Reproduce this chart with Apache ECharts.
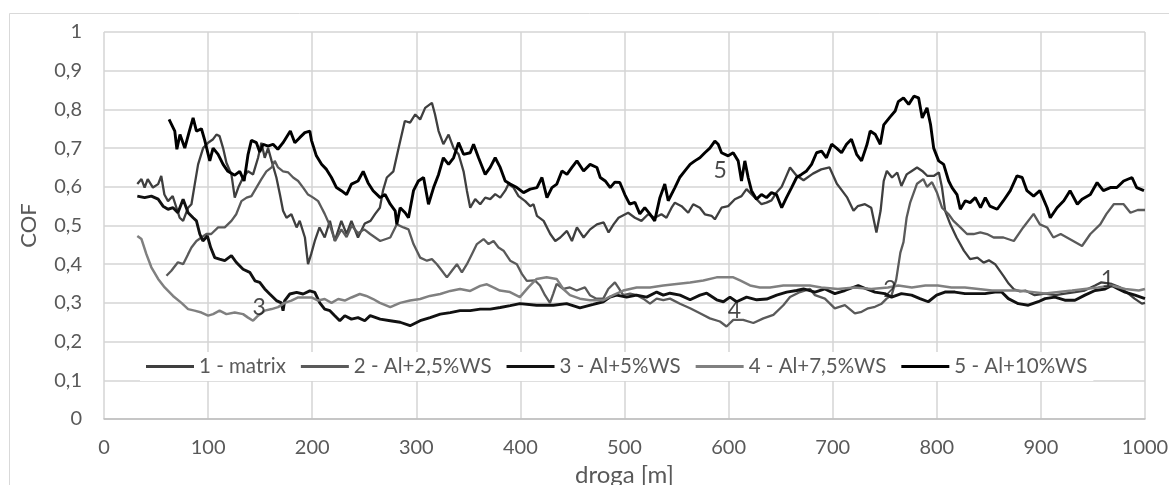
<!DOCTYPE html>
<html>
<head>
<meta charset="utf-8">
<script src="https://cdn.jsdelivr.net/npm/echarts/dist/echarts.min.js"></script>
<style>
  html, body { margin: 0; padding: 0; background: #fff; }
  #cof { width: 1169px; height: 485px; }
</style>
</head>
<body>
<div id="cof"></div>
<script>
// [droga m, COF]
var names = ["1 - matrix", "2 - Al+2,5%WS", "3 - Al+5%WS", "4 - Al+7,5%WS", "5 - Al+10%WS"];

var matrix = [[32,0.607],[36,0.62],[39,0.598],[42,0.62],[47,0.598],[52,0.607],[55,0.628],[58,0.58],[61.5,0.563],[66,0.576],[72.7,0.52],[76,0.512],[80.8,0.546],[84,0.555],[87.2,0.607],[90.4,0.658],[95.2,0.70],[100,0.714],[104.8,0.723],[108,0.735],[111,0.731],[114.4,0.70],[117.6,0.662],[122.4,0.632],[125.6,0.572],[129,0.598],[133.6,0.624],[138.4,0.64],[143.2,0.632],[148,0.675],[151.2,0.714],[154.4,0.675],[157.6,0.70],[161,0.667],[165.6,0.624],[169,0.58],[172,0.538],[175.3,0.52],[180,0.529],[185,0.495],[188,0.512],[193,0.469],[196,0.40],[199,0.426],[202.5,0.46],[207,0.495],[212,0.469],[217,0.512],[221.7,0.46],[228,0.512],[233,0.478],[237.7,0.512],[244,0.469],[250.5,0.505],
  [256,0.512],[260.5,0.53],[265,0.546],[268,0.59],[271.7,0.624],[278,0.64],[283,0.70],[289,0.77],[294,0.766],[299,0.787],[303.7,0.774],[308.5,0.804],[315,0.817],[318,0.787],[321.4,0.744],[326,0.71],[331,0.735],[335.8,0.70],[340.6,0.684],[345.4,0.64],[348.6,0.59],[351.8,0.546],[356.6,0.568],[361.4,0.555],[366.2,0.572],[371,0.568],[375.8,0.581],[380.6,0.572],[385.4,0.59],[388.6,0.607],[393.4,0.598],[398.2,0.576],[404.6,0.563],[409.4,0.55],[412.6,0.555],[415.9,0.525],[422.3,0.512],[428.7,0.478],[433.5,0.46],[438.3,0.469],[444.7,0.486],[449.5,0.46],[454.3,0.495],[460.7,0.469],[467,0.49],[473.5,0.503],[480,0.508],[484.7,0.482],[489.5,0.503],[494.3,0.52],[503.5,0.533],[510,0.52],[516.3,0.512],[522.7,0.529],[529,0.52],[535.5,0.529],[540.3,0.52],[545.2,0.546],[548.4,0.559],[554.8,0.55],[561.2,0.533],[566,0.555],[572.4,0.546],[577.2,0.529],[583.6,0.525],[586.8,0.516],[593.2,0.546],[599.6,0.55],[606,0.568],[612.4,0.576],[617.2,0.594],[622,0.581],[626.8,0.568],[631.6,0.555],[636.4,0.559],[641.2,0.565],[646,0.585],[651,0.60],[655,0.625],[659,0.65],[665,0.63],[672,0.617],[681,0.634],[689,0.645],[697,0.65],[704,0.608],[709,0.59],[714,0.572],[720,0.538],[724,0.55],[731,0.555],[737,0.546],[742,0.482],[746,0.538],[749,0.615],[752,0.641],[757,0.624],[762,0.637],[766,0.602],[771,0.632],[776,0.641],[781,0.65],[786,0.641],[791,0.628],[797,0.628],[802,0.637],[805,0.598],[808,0.538],[813,0.503],[819,0.469],[826,0.435],[832,0.413],[839,0.417],[845,0.404],[850,0.41],[856,0.40],[864,0.37],[869,0.35],[874,0.335],[880,0.33],[885,0.332],[894,0.32],[904,0.324],[914,0.32],[923,0.324],[933,0.328],[942,0.332],[952,0.345],[958,0.353],[968,0.349],[976,0.34],[984,0.324],[990,0.311],[997,0.298],[1000,0.3]];

var ws25 = [[60,0.37],[64.7,0.383],[71,0.405],[76,0.40],[80.8,0.426],[84,0.443],[88.8,0.46],[93.6,0.469],[98.4,0.478],[103,0.478],[109.6,0.495],[116,0.495],[122.4,0.512],[127,0.529],[132,0.563],[137,0.572],[141.6,0.576],[146.4,0.598],[151.2,0.62],[156,0.64],[161,0.65],[164,0.667],[167.2,0.65],[172,0.64],[177,0.637],[181.7,0.624],[186.5,0.615],[191.3,0.598],[196,0.58],[201,0.572],[205.7,0.563],[209,0.546],[212,0.53],[217,0.50],[222,0.46],[228,0.49],[233,0.47],[238,0.50],[244,0.48],[250,0.49],
  [255.7,0.478],[265.3,0.46],[275,0.469],[281.3,0.503],[287.7,0.495],[292.5,0.49],[297.3,0.452],[303.7,0.417],[310.2,0.409],[315,0.413],[319.8,0.40],[324.6,0.383],[329.4,0.366],[334.2,0.383],[339,0.40],[343.8,0.379],[348.6,0.40],[353.4,0.426],[358.2,0.452],[364.6,0.465],[369.4,0.452],[374.2,0.46],[379,0.443],[383.8,0.435],[390.2,0.409],[396.6,0.40],[401.4,0.375],[406.2,0.357],[414,0.358],[418.8,0.345],[423.6,0.32],[428.4,0.30],[431.6,0.324],[434.8,0.349],[441.2,0.336],[447.6,0.34],[454,0.332],[462,0.34],[466.8,0.32],[473,0.311],[479.6,0.311],[484.4,0.336],[490.8,0.353],[494,0.34],[498.8,0.32],[505.3,0.324],[511.7,0.32],[518,0.311],[524.5,0.298],[530.9,0.311],[537.3,0.307],[543.7,0.311],[553.3,0.298],[563,0.286],[572.5,0.273],[582,0.26],[591.7,0.252],[598,0.239],[604.5,0.256],[614,0.256],[623.8,0.248],[633.4,0.26],[643,0.269],[652.6,0.294],[659,0.315],[668.6,0.328],[678.2,0.336],[683,0.32],[692.5,0.311],[702,0.286],[711.7,0.294],[721.3,0.273],[727.8,0.277],[734,0.286],[740.6,0.29],[747,0.298],[751.8,0.311],[756.6,0.32],[761,0.36],[765,0.43],[768,0.457],[771,0.52],[774.5,0.56],[781,0.608],[787,0.62],[790.6,0.60],[795.4,0.612],[800,0.586],[805,0.546],[811.4,0.529],[816,0.512],[822.6,0.495],[829,0.478],[835.4,0.478],[841.8,0.482],[848.2,0.478],[854.6,0.469],[864,0.469],[874,0.46],[883,0.495],[893,0.53],[899,0.503],[906,0.495],[912,0.469],[919,0.478],[925,0.469],[931,0.46],[939.5,0.447],[947.5,0.478],[957,0.503],[963,0.53],[970,0.555],[979.5,0.555],[986,0.533],[993,0.54],[1000,0.54]];

var ws5 = [[32,0.576],[39,0.572],[45.5,0.576],[52,0.568],[56.7,0.55],[61.5,0.542],[66.3,0.546],[71,0.533],[76,0.568],[80.8,0.533],[85.6,0.52],[88.8,0.512],[92,0.478],[95,0.46],[99.3,0.473],[102.5,0.443],[106.4,0.417],[111,0.413],[116,0.409],[122.4,0.422],[127,0.405],[133.6,0.387],[140,0.379],[145,0.357],[149.6,0.353],[154.4,0.336],[159.2,0.323],[165.6,0.306],[170.4,0.30],[172,0.28],[173.6,0.306],[178.5,0.323],[185,0.327],[191.3,0.323],[197.7,0.331],[202.5,0.327],[207.3,0.30],[212,0.284],[217,0.28],[221.7,0.267],[226.5,0.254],[231.3,0.267],[237.7,0.258],[244,0.262],[250.5,0.254],[255.7,0.267],[265.3,0.258],[275,0.254],[284.5,0.25],[294,0.241],[303.7,0.254],[313.3,0.262],[323,0.271],[332.6,0.275],[342,0.28],[351.8,0.28],[361.4,0.284],[371,0.284],[380.6,0.288],[390.2,0.293],[399.5,0.298],[415.6,0.294],[431.6,0.294],[444.4,0.298],[457.2,0.287],[470,0.296],[479.6,0.303],[486,0.315],[492.4,0.32],[502,0.315],[511.6,0.32],[521.3,0.315],[530.9,0.328],[537.3,0.32],[543.7,0.325],[553.3,0.32],[563,0.308],[572.5,0.32],[579,0.325],[588.5,0.308],[595,0.303],[601.3,0.315],[607.7,0.303],[617.3,0.315],[627,0.308],[636.6,0.31],[646.2,0.32],[655.8,0.328],[665.4,0.332],[672,0.336],[683,0.328],[692.5,0.336],[702,0.324],[711.7,0.332],[724.5,0.345],[732.6,0.336],[740.6,0.328],[750,0.324],[756.6,0.315],[766,0.324],[775.8,0.32],[783.8,0.311],[791.8,0.303],[799.8,0.32],[807.8,0.328],[817.4,0.328],[827,0.324],[836.7,0.324],[846.3,0.324],[855.9,0.328],[862.3,0.328],[868.7,0.311],[878.3,0.298],[887.9,0.294],[897.5,0.303],[904,0.311],[913.5,0.315],[923,0.307],[932.7,0.307],[942.3,0.32],[952,0.332],[961.6,0.336],[968,0.345],[974.4,0.336],[980.8,0.328],[990.4,0.32],[1000,0.311]];

var ws75 = [[32,0.473],[36,0.465],[40.7,0.426],[45.5,0.392],[52,0.362],[58.3,0.34],[66.3,0.318],[74.4,0.30],[80.8,0.284],[87,0.28],[93.6,0.275],[100,0.267],[104.8,0.271],[111,0.28],[117.6,0.271],[125.6,0.275],[133.6,0.271],[138.4,0.262],[143.2,0.254],[148,0.267],[154.4,0.28],[161,0.284],[167.2,0.289],[173.6,0.30],[180,0.306],[186.5,0.314],[193,0.314],[199.3,0.314],[205.7,0.306],[212,0.31],[218.5,0.30],[225,0.31],[231.3,0.306],[237.7,0.314],[245.7,0.323],[252,0.318],[258.5,0.31],[265,0.30],[275,0.289],[284.5,0.30],[294,0.306],[303.7,0.31],[313,0.318],[323,0.323],[332.6,0.331],[342,0.336],[351.8,0.331],[361.4,0.344],[367.8,0.348],[374,0.34],[380.3,0.332],[390,0.328],[399.5,0.315],[407.6,0.34],[415.6,0.362],[425.2,0.366],[434.8,0.362],[441.2,0.336],[447.6,0.32],[457.2,0.311],[466.8,0.307],[479.6,0.307],[489.2,0.32],[498.8,0.332],[511.7,0.34],[524.5,0.34],[537.3,0.345],[550,0.349],[563,0.353],[575.7,0.358],[588.5,0.366],[595,0.366],[604.5,0.366],[611,0.358],[620.6,0.345],[630,0.34],[639.8,0.34],[652.6,0.345],[665.4,0.345],[678,0.345],[689,0.34],[705,0.336],[721,0.34],[737,0.336],[753,0.34],[763,0.345],[776,0.34],[789,0.345],[801,0.345],[814,0.34],[827,0.34],[840,0.336],[853,0.332],[865.5,0.332],[878,0.332],[891,0.328],[904,0.324],[917,0.328],[930,0.332],[942,0.336],[955,0.34],[968,0.345],[981,0.336],[994,0.332],[1000,0.336]];

var ws10 = [[62.5,0.774],[68,0.744],[70,0.697],[73,0.735],[77.6,0.70],[82,0.744],[85.6,0.778],[88.8,0.744],[93.6,0.75],[96.8,0.72],[101.6,0.667],[104.8,0.70],[109.6,0.684],[114.4,0.658],[119,0.64],[125.6,0.63],[130.4,0.64],[134.6,0.615],[138.4,0.684],[141.6,0.72],[146.4,0.714],[149.6,0.69],[152.8,0.71],[157.6,0.705],[162.4,0.71],[167,0.697],[172,0.714],[179,0.744],[183.3,0.714],[188,0.727],[192.9,0.74],[197.7,0.744],[199.3,0.72],[204,0.68],[209,0.658],[213.7,0.645],[218.5,0.624],[223.3,0.598],[228,0.59],[233,0.58],[237.7,0.607],[244,0.615],[249,0.64],[253.7,0.61],[258.5,0.59],[265.3,0.572],[270,0.58],[275,0.555],[279.7,0.538],[281.3,0.503],[284.5,0.546],[289.3,0.533],[292.5,0.52],[297.3,0.59],[302,0.615],[307,0.624],[311.7,0.555],[316.6,0.598],[321.4,0.632],[326,0.675],[331,0.658],[335.8,0.675],[340.6,0.714],[345.4,0.684],[351.8,0.688],[355,0.71],[359.8,0.675],[366.2,0.632],[371,0.65],[375.8,0.675],[380.6,0.65],[385.4,0.615],[390.2,0.607],[396.6,0.598],[403,0.585],[409.4,0.594],[415.9,0.598],[420.7,0.624],[425.5,0.572],[430.3,0.598],[435,0.607],[439.9,0.641],[444.7,0.632],[449.5,0.65],[454.3,0.667],[460.7,0.641],[467,0.658],[473.5,0.65],[476.7,0.624],[481.5,0.615],[486.3,0.598],[490.7,0.612],[495.5,0.611],[500.3,0.58],[505,0.555],[510,0.56],[514.7,0.53],[519.5,0.546],[524.3,0.53],[529,0.512],[534,0.572],[538.7,0.607],[542,0.564],[548.4,0.598],[553,0.624],[558,0.641],[563,0.658],[567.6,0.667],[572.4,0.675],[577.2,0.688],[582,0.70],[586.8,0.718],[590,0.71],[593.2,0.688],[599.6,0.68],[604.4,0.688],[609.2,0.667],[612.4,0.615],[615.6,0.667],[618.8,0.624],[622,0.59],[626.8,0.568],[631.6,0.58],[636.4,0.572],[641.2,0.585],[646,0.58],[651,0.546],[655.6,0.572],[660.5,0.598],[665.3,0.624],[670,0.632],[674.9,0.641],[679.7,0.658],[684.5,0.688],[689.3,0.692],[694,0.675],[699,0.71],[703.7,0.70],[708.5,0.688],[713.3,0.71],[718,0.723],[723,0.684],[727.7,0.667],[733,0.71],[736,0.744],[741,0.735],[745.7,0.71],[749,0.76],[755,0.78],[760,0.796],[763,0.82],[768,0.83],[773,0.813],[778,0.834],[782.5,0.83],[786,0.778],[790.6,0.804],[794,0.761],[797,0.70],[801.8,0.667],[806.6,0.658],[811.4,0.615],[814.6,0.598],[819.4,0.58],[822.6,0.542],[827.4,0.564],[832,0.559],[837,0.572],[842,0.546],[846.6,0.572],[851,0.55],[858,0.542],[864,0.564],[870.6,0.59],[877,0.628],[882,0.624],[886.6,0.59],[893,0.576],[899,0.59],[906,0.546],[909,0.52],[915.5,0.546],[922,0.564],[928,0.59],[935,0.555],[939.5,0.568],[947.5,0.58],[954,0.611],[960,0.59],[966.7,0.598],[973,0.598],[979.5,0.615],[987.5,0.624],[992,0.598],[999,0.59]];

// curve numbers written on the plot
var tags = [[964, 0.36, "1"], [755, 0.334, "2"], [149, 0.288, "3"], [605.5, 0.281, "4"], [592, 0.641, "5"]];

var colors = ["#3f3f3f", "#5a5a5a", "#111111", "#808080", "#000000"];
var widths = [2.3, 2.3, 2.9, 2.5, 2.9];
var txt = "#595959";
var font = "Lato";

function makeLine(i, data) {
  return {
    name: names[i],
    type: "line",
    data: data,
    symbol: "none",
    lineStyle: { color: colors[i], width: widths[i] },
    itemStyle: { color: colors[i] },
    z: 3
  };
}

var myChart = echarts.init(document.getElementById("cof"));
myChart.setOption({
  animation: false,
  backgroundColor: "#fff",
  textStyle: { fontFamily: font },
  graphic: [{
    type: "rect",
    shape: { x: 9.5, y: 13.5, width: 1300, height: 600 },
    style: { fill: "none", stroke: "#d9d9d9", lineWidth: 1 },
    silent: true
  }],
  grid: { left: 104, right: 24, top: 32, bottom: 66, containLabel: false, outerBoundsMode: "none" },
  legend: {
    data: names,
    icon: "rect",
    left: 140,
    top: 352,
    itemWidth: 48,
    itemHeight: 3,
    itemGap: 15,
    backgroundColor: "#fff",
    padding: [4, 6],
    textStyle: { color: txt, fontSize: 20.5, fontFamily: font }
  },
  xAxis: {
    type: "value",
    min: 0,
    max: 1000,
    interval: 100,
    name: "droga [m]",
    nameLocation: "middle",
    nameGap: 36,
    nameTextStyle: { color: txt, fontSize: 24, fontFamily: font },
    axisLine: { show: true, lineStyle: { color: "#bfbfbf", width: 1.5 } },
    axisTick: { show: false },
    axisLabel: {
      color: txt, fontSize: 20, margin: 19, fontFamily: font,
      formatter: function (v) { return String(v); }
    },
    splitLine: { show: true, lineStyle: { color: "#d4d4d4", width: 1.5 } }
  },
  yAxis: {
    type: "value",
    min: 0,
    max: 1,
    interval: 0.1,
    name: "COF",
    nameLocation: "middle",
    nameRotate: 90,
    nameGap: 64,
    nameTextStyle: { color: txt, fontSize: 22, fontFamily: font },
    axisLine: { show: false },
    axisTick: { show: false },
    axisLabel: {
      color: txt,
      fontSize: 20,
      margin: 22,
      fontFamily: font,
      formatter: function (v) {
        return String(Math.round(v * 10) / 10).replace(".", ",");
      }
    },
    splitLine: { show: true, lineStyle: { color: "#d4d4d4", width: 1.5 } }
  },
  series: [
    makeLine(0, matrix),
    makeLine(1, ws25),
    makeLine(2, ws5),
    makeLine(3, ws75),
    makeLine(4, ws10),
    {
      name: "tags",
      type: "scatter",
      data: tags,
      symbolSize: 1,
      itemStyle: { color: "rgba(0,0,0,0)" },
      z: 5,
      label: {
        show: true,
        position: "inside",
        color: "#1a1a1a",
        fontSize: 23,
        fontFamily: font,
        formatter: function (p) { return p.value[2]; }
      }
    }
  ]
});
</script>
</body>
</html>
